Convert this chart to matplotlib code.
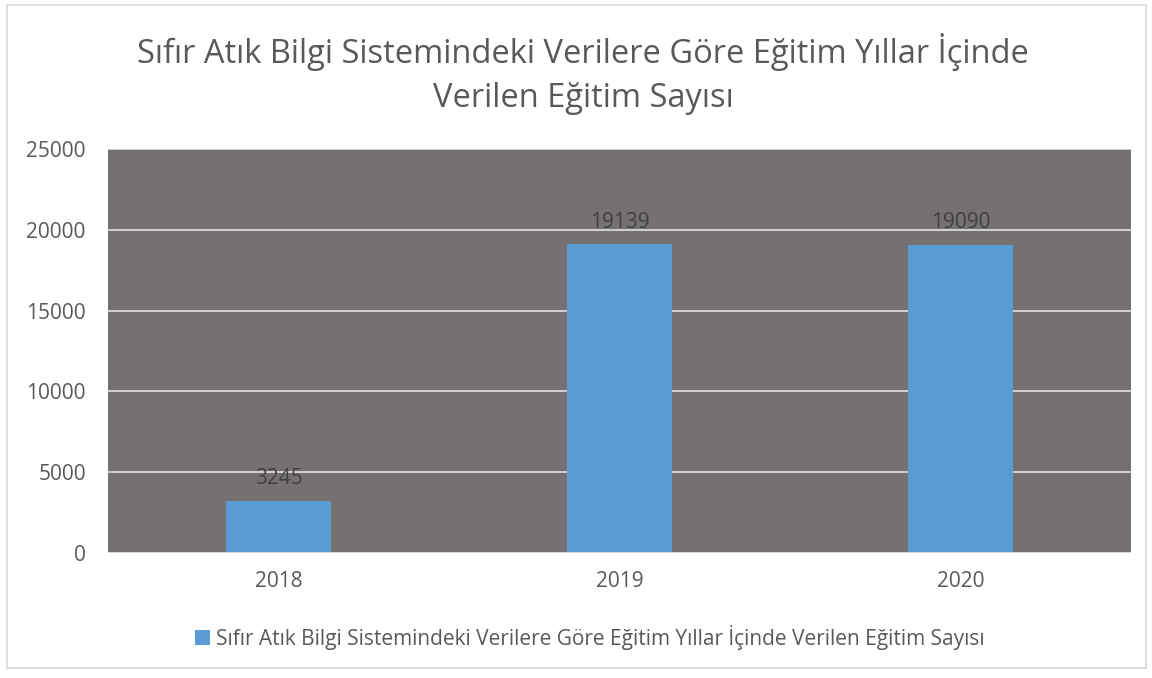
import matplotlib.pyplot as plt
from matplotlib.patches import Rectangle

years = ['2018', '2019', '2020']
counts = [3245, 19139, 19090]
series_name = 'Sıfır Atık Bilgi Sistemindeki Verilere Göre Eğitim Yıllar İçinde Verilen Eğitim Sayısı'
title = 'Sıfır Atık Bilgi Sistemindeki Verilere Göre Eğitim Yıllar İçinde\nVerilen Eğitim Sayısı'

plt.rcParams['font.family'] = ['Open Sans', 'DejaVu Sans']

W, H = 1152, 678
fig = plt.figure(figsize=(W / 100, H / 100), dpi=100)
ax = fig.add_axes([108 / W, 1 - 553 / H, (1131 - 108) / W, (553 - 149) / H])

# outer chart border
fig.patches.append(Rectangle((7 / W, 1 - 668 / H), (1146 - 7) / W, (668 - 5) / H,
                             transform=fig.transFigure, fill=False,
                             edgecolor='#d9d9d9', linewidth=1.2))

ax.set_facecolor('#767171')
x = range(len(years))
bars = ax.bar(x, counts, width=0.31, color='#5b9bd5', zorder=3, label=series_name)
ax.set_xlim(-0.5, 2.5)
ax.set_ylim(0, 25000)
ax.set_yticks(range(0, 25001, 5000))
ax.yaxis.grid(True, color='#d9d9d9', linewidth=1.3, zorder=1)
ax.set_xticks(list(x))
ax.set_xticklabels(years)
ax.tick_params(length=0, labelsize=15, colors='#595959', pad=13)
ax.tick_params(axis='y', pad=16)
for s in ax.spines.values():
    s.set_visible(False)
ax.axhline(0, color='#d9d9d9', linewidth=1.3, zorder=4)

for xi, v in zip(x, counts):
    ax.annotate(str(v), (xi, v), xytext=(0, 8), textcoords='offset points',
                ha='center', va='bottom', fontsize=15, color='#404040')

fig.text(583 / W, 1 - 74 / H, title, ha='center', va='center',
         fontsize=23.5, color='#595959', linespacing=1.45)

leg = fig.legend(loc='center', bbox_to_anchor=(590 / W, 1 - 637 / H), frameon=False,
                 fontsize=15, handlelength=0.7, handleheight=0.7, handletextpad=0.3)
for t in leg.get_texts():
    t.set_color('#595959')

fig.savefig('out.png', dpi=100)
